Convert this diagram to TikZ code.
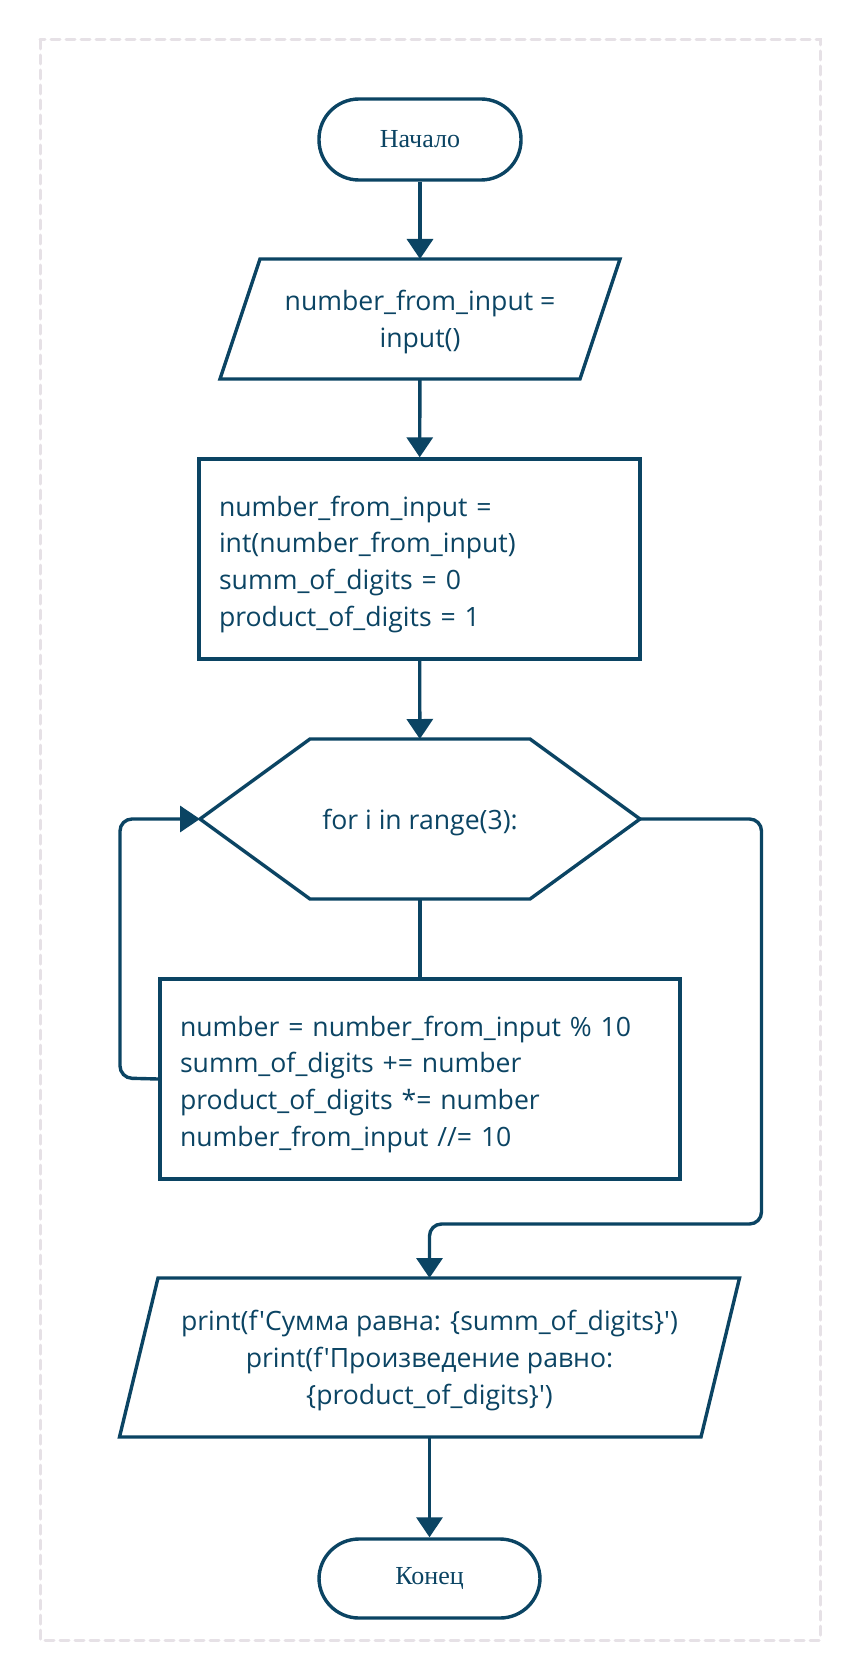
\documentclass[tikz,border=0pt]{standalone}
\usepackage{fontspec}
\setmainfont{Liberation Serif}
\newfontfamily\codefont{Open Sans}
\usetikzlibrary{arrows.meta}
\definecolor{flowblue}{HTML}{0B4463}
\definecolor{framegray}{HTML}{E6E1E6}
\begin{document}
\begin{tikzpicture}[x=1pt, y=-1pt, line width=3.4pt, draw=flowblue, text=flowblue,
    >={Triangle[width=26pt, length=20pt]},
    terminal/.style={draw, fill=white, rounded corners=40pt, font=\fontsize{26}{36}\selectfont},
    codetext/.style={font=\codefont\fontsize{26.6}{36.7}\selectfont},
    io/.style={codetext, text depth=0pt, outer sep=0pt, align=center},
    process/.style={codetext, text depth=106pt, draw, fill=white, rectangle, inner xsep=20pt, align=left},
    loophead/.style={codetext, text depth=0pt, outer sep=0pt},
    flow/.style={->, flowblue, rounded corners=12pt}]
\useasboundingbox (0,0) rectangle (860,1680);
\draw[framegray, line width=3pt, dash pattern=on 9pt off 6pt, line cap=round] (40,40) rectangle (820,1640);

\node[terminal, minimum width=202pt, minimum height=81pt] (start) at (420,139.5) {Начало};
\node[io, minimum width=400pt, minimum height=120pt] (in1) at (420,319) {number\_from\_input =\\input()};
\node[process, text width=401pt, minimum height=200pt] (init) at (419.5,559)
    {number\_from\_input =\\int(number\_from\_input)\\summ\_of\_digits = 0\\product\_of\_digits = 1};
\node[loophead, minimum width=440pt, minimum height=160pt] (loop) at (420,819) {for i in range(3):};
\node[process, text width=480pt, minimum height=200pt] (body) at (420,1079)
    {number = number\_from\_input \% 10\\summ\_of\_digits += number\\product\_of\_digits *= number\\number\_from\_input //= 10};
\node[io, minimum width=620pt, minimum height=159pt] (out) at (429.5,1357.5)
    {print(f'Сумма равна: \{summ\_of\_digits\}')\\print(f'Произведение равно:\\\{product\_of\_digits\}')};
\node[terminal, minimum width=221pt, minimum height=79pt] (end) at (429.5,1578.5) {Конец};

% parallelograms and the loop hexagon
\draw (in1.south west) -- ([xshift=40pt]in1.north west) -- (in1.north east)
    -- ([xshift=-40pt]in1.south east) -- cycle;
\draw (out.south west) -- ([xshift=38.5pt]out.north west) -- (out.north east)
    -- ([xshift=-38.5pt]out.south east) -- cycle;
\draw (loop.west) -- ([xshift=110pt]loop.north west) -- ([xshift=-110pt]loop.north east)
    -- (loop.east) -- ([xshift=-110pt]loop.south east) -- ([xshift=110pt]loop.south west) -- cycle;

\coordinate (back) at (120,1078);
\coordinate (exit) at (761.5,1224);

\draw[flow] (start) -- (in1);
\draw[flow] (in1) -- (init);
\draw[flow] (init) -- (loop);
\draw (loop) -- (body);
\draw[flow] (body.west) -- (back) |- (loop.west);
\draw[flow] (loop.east) -| (exit) -| (out.north);
\draw[flow] (out) -- (end);
\end{tikzpicture}
\end{document}
